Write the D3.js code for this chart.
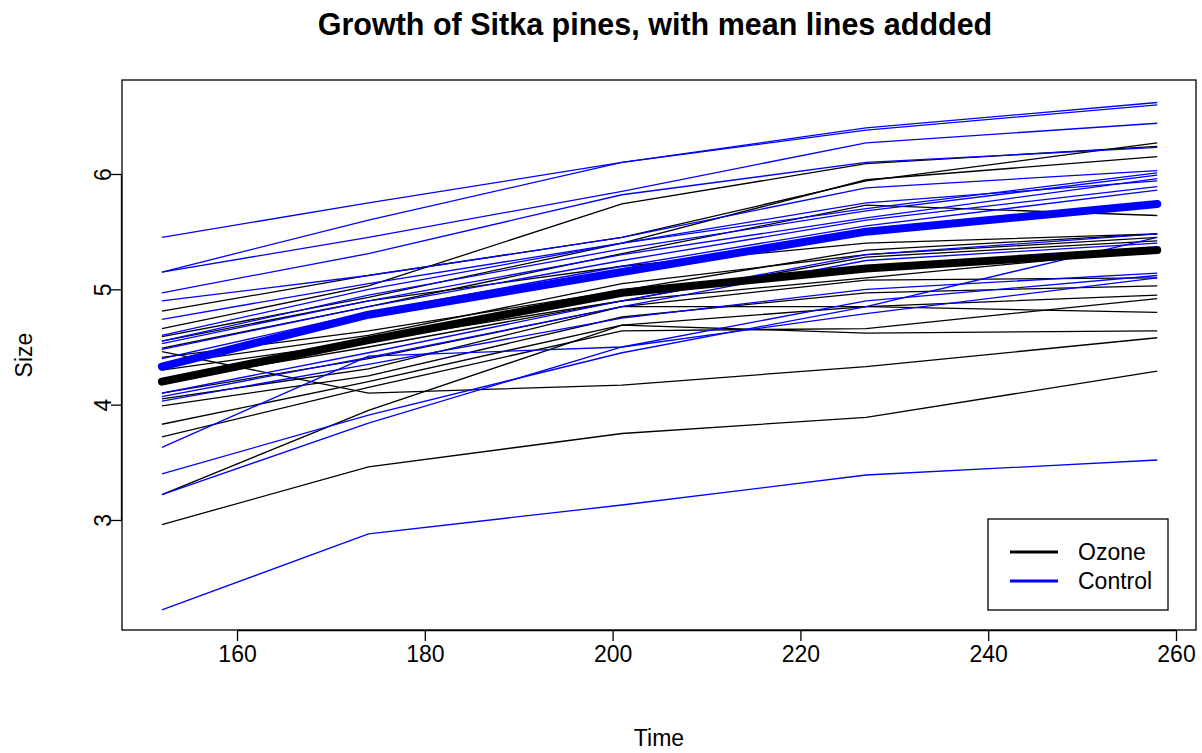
<!DOCTYPE html>
<html><head><meta charset="utf-8">
<script src="https://cdn.jsdelivr.net/npm/d3@7"></script>
<style>body{margin:0;background:#fff}svg{display:block}text{font-family:"Liberation Sans",Arial,sans-serif}</style>
</head><body><svg id="c" width="1202" height="753"></svg>
<script>
const times = [152, 174, 201, 227, 258];
const ozoneTrees = [
  [4.81, 5.12, 5.45, 5.94, 6.27],
  [4.66, 5.03, 5.74, 6.09, 6.24],
  [4.59, 4.93, 5.40, 5.95, 6.15],
  [4.49, 4.85, 5.31, 5.73, 5.64],
  [4.46, 4.10, 4.17, 4.33, 4.58],
  [4.41, 4.64, 4.99, 5.34, 5.48],
  [4.35, 4.60, 5.05, 5.30, 5.45],
  [4.30, 4.55, 4.90, 5.28, 5.42],
  [4.05, 4.31, 4.85, 5.08, 5.10],
  [3.99, 4.25, 4.76, 4.97, 5.03],
  [3.83, 4.20, 4.69, 4.85, 4.95],
  [3.72, 4.15, 4.64, 4.66, 4.92],
  [3.22, 3.95, 4.69, 4.62, 4.64],
  [4.20, 4.50, 4.90, 5.10, 5.34],
  [4.10, 4.40, 4.85, 4.85, 4.80],
  [2.96, 3.46, 3.75, 3.89, 4.29],
  [4.55, 4.90, 5.20, 5.40, 5.48]
];
const controlTrees = [
  [5.45, 5.75, 6.10, 6.40, 6.62],
  [5.15, 5.60, 6.10, 6.38, 6.60],
  [5.15, 5.45, 5.85, 6.27, 6.44],
  [4.97, 5.31, 5.82, 6.10, 6.23],
  [4.90, 5.12, 5.45, 5.88, 6.03],
  [4.74, 5.05, 5.40, 5.70, 6.01],
  [4.55, 4.95, 5.35, 5.68, 5.99],
  [4.53, 4.90, 5.30, 5.62, 5.96],
  [4.60, 5.00, 5.40, 5.75, 5.94],
  [4.48, 4.85, 5.25, 5.60, 5.89],
  [4.40, 4.80, 5.20, 5.55, 5.86],
  [4.10, 4.45, 4.90, 5.30, 5.48],
  [4.07, 4.41, 4.85, 5.25, 5.40],
  [4.03, 4.35, 4.75, 5.00, 5.14],
  [3.63, 4.42, 4.50, 4.90, 5.12],
  [3.22, 3.84, 4.50, 4.79, 5.10],
  [3.40, 3.91, 4.45, 4.85, 5.45],
  [2.22, 2.88, 3.13, 3.39, 3.52]
];
const ozoneMean = [4.20, 4.56, 4.97, 5.18, 5.34];
const controlMean = [4.33, 4.78, 5.15, 5.50, 5.74];
const xTicks = [160, 180, 200, 220, 240, 260];
const yTicks = [3, 4, 5, 6];
const legendLabels = ["Ozone", "Control"];
const colors = {ozone: "#000000", control: "#0000ff"};

const svg = d3.select("#c");
const L = 122, R = 1196, T = 80, B = 630;
const x = d3.scaleLinear().domain([147.75, 262.13]).range([L, R]);
const y = d3.scaleLinear().domain([2.046, 6.815]).range([B, T]);
const line = d3.line().x((d, i) => x(times[i])).y(d => y(d));

svg.append("defs").append("clipPath").attr("id", "clip")
  .append("rect").attr("x", L).attr("y", T).attr("width", R - L).attr("height", B - T);
const g = svg.append("g").attr("clip-path", "url(#clip)");

ozoneTrees.forEach(t => g.append("path").attr("d", line(t)).attr("fill", "none")
  .attr("stroke", colors.ozone).attr("stroke-width", 1.3));
controlTrees.forEach(t => g.append("path").attr("d", line(t)).attr("fill", "none")
  .attr("stroke", colors.control).attr("stroke-width", 1.3));
g.append("path").attr("d", line(ozoneMean)).attr("fill", "none").attr("stroke", colors.ozone)
  .attr("stroke-width", 8).attr("stroke-linecap", "round").attr("stroke-linejoin", "round");
g.append("path").attr("d", line(controlMean)).attr("fill", "none").attr("stroke", colors.control)
  .attr("stroke-width", 8).attr("stroke-linecap", "round").attr("stroke-linejoin", "round");

// box
svg.append("rect").attr("x", L).attr("y", T).attr("width", R - L).attr("height", B - T)
  .attr("fill", "none").attr("stroke", "#000").attr("stroke-width", 1.3);

// x axis
const xa = svg.append("g").attr("transform", `translate(0,${B})`)
  .call(d3.axisBottom(x).tickValues(xTicks).tickSize(11).tickPadding(5).tickFormat(d3.format("d")));
xa.select(".domain").attr("d", `M${x(160)},0.5H${x(260)}`).attr("stroke-width", 1.3);
xa.selectAll(".tick line").attr("stroke-width", 1.3);
xa.selectAll("text").attr("font-size", 23).attr("fill", "#000").attr("font-family", "Liberation Sans, Arial, sans-serif");

// y axis
const ya = svg.append("g").attr("transform", `translate(${L},0)`)
  .call(d3.axisLeft(y).tickValues(yTicks).tickSize(11).tickFormat(d3.format("d")));
ya.select(".domain").attr("d", `M-0.5,${y(3)}V${y(6)}`).attr("stroke-width", 1.3);
ya.selectAll(".tick line").attr("stroke-width", 1.3);
ya.selectAll("text").attr("font-size", 23).attr("fill", "#000")
  .attr("font-family", "Liberation Sans, Arial, sans-serif")
  .attr("x", null).attr("dy", null)
  .attr("transform", "translate(-19,0) rotate(-90)")
  .attr("text-anchor", "middle").attr("dominant-baseline", "central");

// title & labels
svg.append("text").attr("x", (L + R) / 2 - 4).attr("y", 35).attr("text-anchor", "middle")
  .attr("font-size", 30.5).attr("font-weight", "bold").text("Growth of Sitka pines, with mean lines addded");
svg.append("text").attr("x", (L + R) / 2).attr("y", 746).attr("text-anchor", "middle")
  .attr("font-size", 23).text("Time");
svg.append("text").attr("transform", `translate(32,${(T + B) / 2}) rotate(-90)`).attr("text-anchor", "middle")
  .attr("font-size", 23).text("Size");

// legend
const lg = svg.append("g");
lg.append("rect").attr("x", 988).attr("y", 519).attr("width", 180).attr("height", 91)
  .attr("fill", "#fff").attr("stroke", "#000").attr("stroke-width", 1.3);
[colors.ozone, colors.control].forEach((c, i) => {
  const yy = 552 + i * 29;
  lg.append("line").attr("x1", 1010).attr("x2", 1058).attr("y1", yy).attr("y2", yy)
    .attr("stroke", c).attr("stroke-width", 3);
  lg.append("text").attr("x", 1078).attr("y", yy).attr("dominant-baseline", "central")
    .attr("font-size", 23).text(legendLabels[i]);
});
</script></body></html>
